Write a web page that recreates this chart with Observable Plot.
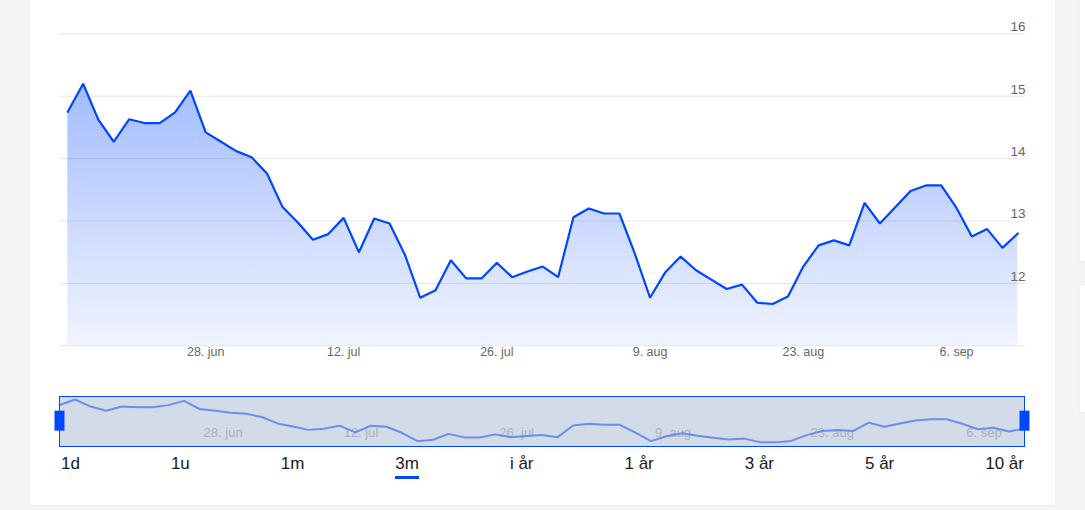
<!DOCTYPE html>
<html>
<head>
<meta charset="utf-8">
<script src="https://cdn.jsdelivr.net/npm/d3@7"></script>
<script src="https://cdn.jsdelivr.net/npm/@observablehq/plot@0.6"></script>
<style>
  html, body { margin: 0; padding: 0; }
  body { width: 1085px; height: 510px; background: #f4f4f4; position: relative; overflow: hidden;
         font-family: "Liberation Sans", Arial, sans-serif; }
  #card { position: absolute; left: 30px; top: 0; width: 1025px; height: 505px; background: #fff;
          box-shadow: 0 1px 2px rgba(0,0,0,0.05); }
  .side { position: absolute; left: 1080px; width: 5px; background: #fff; box-shadow: 0 1px 2px rgba(0,0,0,0.06); }
  #main { position: absolute; left: 0; top: 0; }
  #nav { position: absolute; left: 0; top: 390px; }
  #buttons { position: absolute; left: 61px; width: 963px; top: 452px; height: 24px; display: flex;
             justify-content: space-between; font-size: 17px; line-height: 24px; color: #1a1a1a; }
  #buttons span { position: relative; white-space: nowrap; }
  #buttons span.active::after { content: ""; position: absolute; left: 0; right: 0; top: 23.5px; height: 3px; background: #0046ff; }
</style>
</head>
<body>
<div id="card"></div>
<div class="side" style="top:0;height:261px"></div>
<div class="side" style="top:286px;height:126px"></div>
<div id="main"></div>
<div id="nav"></div>
<div id="buttons"></div>
<script>
// --- data (ordinal trading-day index, closing values) ---
const values = [14.75, 15.2, 14.62, 14.27, 14.63, 14.57, 14.57, 14.74, 15.09, 14.42,
  14.27, 14.12, 14.02, 13.76, 13.23, 12.98, 12.7, 12.79, 13.05, 12.5,
  13.04, 12.96, 12.46, 11.77, 11.89, 12.37, 12.08, 12.08, 12.33, 12.1,
  12.19, 12.27, 12.1, 13.06, 13.2, 13.12, 13.12, 12.48, 11.77, 12.18,
  12.43, 12.21, 12.06, 11.91, 11.98, 11.69, 11.67, 11.79, 12.27, 12.61,
  12.69, 12.61, 13.29, 12.96, 13.22, 13.48, 13.57, 13.57, 13.21, 12.75,
  12.87, 12.57, 12.8];
const tickIndex = [9, 18, 28, 38, 48, 58];
const tickLabels = ["28. jun", "12. jul", "26. jul", "9. aug", "23. aug", "6. sep"];
const yTicks = [12, 13, 14, 15, 16];
const gridValues = [11, 12, 13, 14, 15, 16];
const buttonLabels = ["1d", "1u", "1m", "3m", "i år", "1 år", "3 år", "5 år", "10 år"];
const activeButton = "3m";

const data = values.map((v, i) => ({i, v}));
const ticks = tickIndex.map((t, k) => ({t, label: tickLabels[k]}));
const font = "'Liberation Sans', Arial, sans-serif";

const main = Plot.plot({
  width: 1055, height: 370,
  marginLeft: 60, marginRight: 30, marginTop: 33.3, marginBottom: 24.7,
  style: {background: "transparent", fontFamily: font, overflow: "visible"},
  x: {domain: [0, values.length - 1], range: [67.3, 1017.3], axis: null},
  y: {domain: [11, 16], axis: null},
  marks: [
    Plot.ruleY(gridValues, {stroke: "#e6e6e6", strokeWidth: 1}),
    Plot.areaY(data, {x: "i", y1: 11, y2: "v", fill: "url(#areaGrad)"}),
    Plot.line(data, {x: "i", y: "v", stroke: "#0046ff", strokeWidth: 2.2, strokeLinejoin: "miter"}),
    Plot.text(yTicks, {y: d => d, text: d => String(d), frameAnchor: "right", textAnchor: "end",
      dy: -7, fill: "#666", fontSize: 13.5}),
    Plot.text(ticks, {x: "t", text: "label", frameAnchor: "bottom", dy: 10.5, fill: "#666", fontSize: 12.5})
  ]
});
const ns = "http://www.w3.org/2000/svg";
const defs = document.createElementNS(ns, "defs");
const grad = document.createElementNS(ns, "linearGradient");
grad.setAttribute("id", "areaGrad");
grad.setAttribute("x1", "0"); grad.setAttribute("y1", "0");
grad.setAttribute("x2", "0"); grad.setAttribute("y2", "1");
[["0", 0.36], ["1", 0.06]].forEach(([o, a]) => {
  const s = document.createElementNS(ns, "stop");
  s.setAttribute("offset", o);
  s.setAttribute("stop-color", "#0046ff");
  s.setAttribute("stop-opacity", a);
  grad.appendChild(s);
});
defs.appendChild(grad);
main.insertBefore(defs, main.firstChild);
document.getElementById("main").appendChild(main);

const nav = Plot.plot({
  width: 1055, height: 60,
  marginLeft: 59, marginRight: 31, marginTop: 6, marginBottom: 4,
  style: {background: "transparent", fontFamily: font, overflow: "visible"},
  x: {domain: [0, values.length - 1], range: [59, 1024], axis: null},
  y: {domain: [11.33, 15.45], axis: null},
  marks: [
    Plot.frame({fill: "#d2dce9", stroke: "none"}),
    Plot.text(ticks, {x: "t", text: "label", frameAnchor: "bottom", textAnchor: "start",
      dx: 4, dy: -9.3, fill: "#aab0b8", fontSize: 13}),
    Plot.line(data, {x: "i", y: "v", stroke: "#6a8ef0", strokeWidth: 2}),
    Plot.frame({stroke: "#0046ff", strokeWidth: 1}),
    Plot.ruleX([0, values.length - 1], {stroke: "#0046ff", strokeWidth: 10, insetTop: 14.7, insetBottom: 15.3})
  ]
});
document.getElementById("nav").appendChild(nav);

const btns = document.getElementById("buttons");
buttonLabels.forEach(b => {
  const s = document.createElement("span");
  s.textContent = b;
  if (b === activeButton) s.className = "active";
  btns.appendChild(s);
});
</script>
</body>
</html>
